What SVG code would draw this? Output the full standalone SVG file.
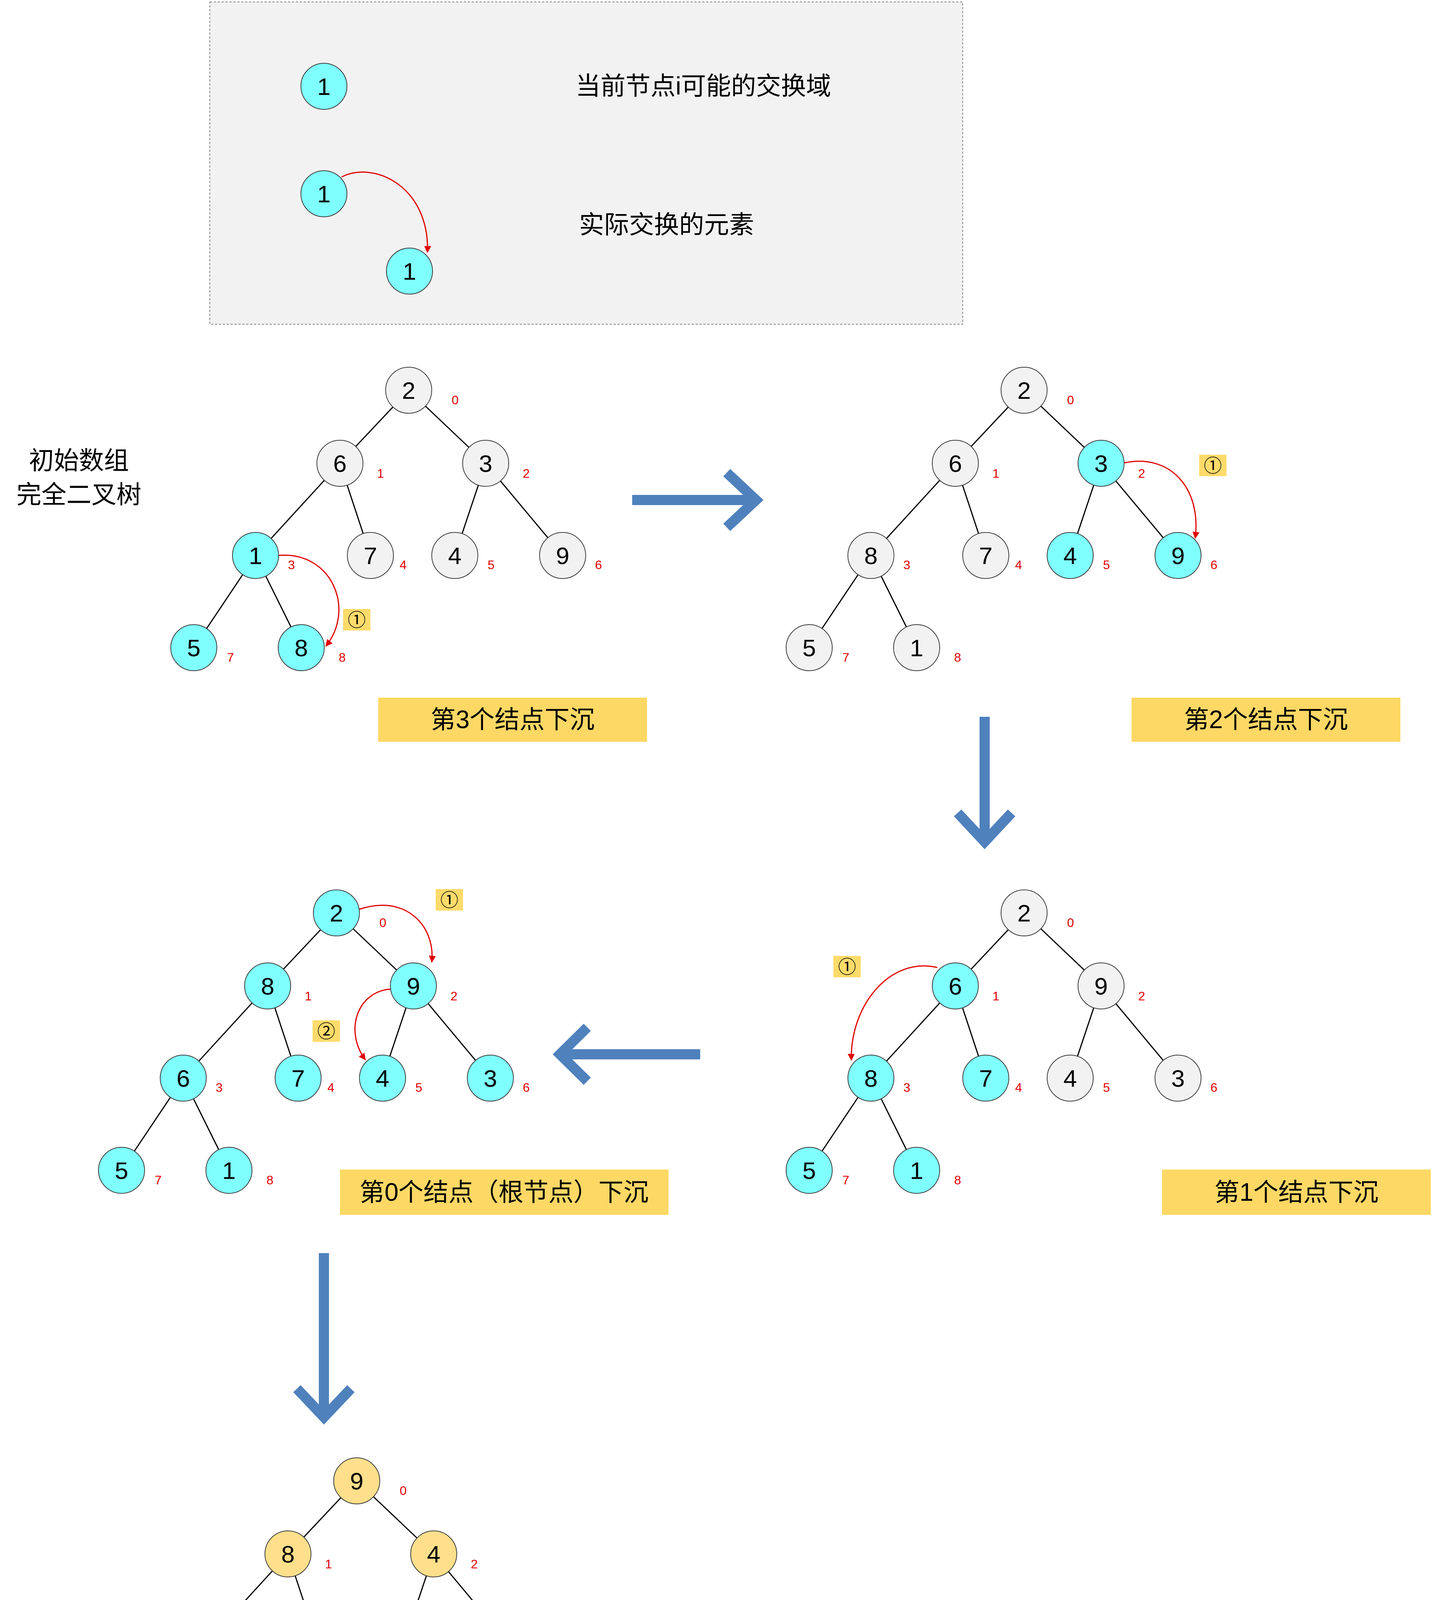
<svg xmlns="http://www.w3.org/2000/svg" width="3665" height="4533" viewBox="0 0 3665 4533">
<defs>
<style>
.g{fill:#f2f2f2;stroke:#404040;stroke-width:2}
.c{fill:#80ffff;stroke:#404040;stroke-width:2}
.y{fill:#fedf8b;stroke:#404040;stroke-width:2}
.v{font-family:"Liberation Sans","Noto Sans",sans-serif;font-size:62px;text-anchor:middle;fill:#000}
.i{font-family:"Liberation Sans",sans-serif;font-size:32px;text-anchor:middle;fill:#e00000}
.e{stroke:#000;stroke-width:3}
.r{fill:none;stroke:#e00000;stroke-width:3;marker-end:url(#ah)}
.b{fill:#fedb6a}
.bt{font-family:"Liberation Sans","Noto Sans CJK SC",sans-serif;font-size:46px;text-anchor:middle}
.lab{fill:#fdd865}
.t{font-family:"Liberation Sans","Noto Sans CJK SC",sans-serif;font-size:64px;text-anchor:middle;fill:#000}
.ba{stroke:#4f81bd;stroke-width:26;fill:none;stroke-linejoin:miter}
</style>
<marker id="ah" viewBox="0 0 10 10" refX="9" refY="5" markerWidth="6" markerHeight="6" orient="auto"><path d="M0,0 L10,5 L0,10 z" fill="#e00000"/></marker>
</defs>
<rect width="3665" height="4533" fill="#fff"/>
<g id="legend">
<rect x="537" y="5" width="1927" height="825" fill="#f2f2f2" stroke="#888" stroke-width="2" stroke-dasharray="6,4"/>
<circle class="c" cx="829" cy="221" r="59"/><text class="v" x="829" y="243">1</text>
<text class="t" x="1800" y="242">当前节点i可能的交换域</text>
<circle class="c" cx="829" cy="496" r="59"/><text class="v" x="829" y="518">1</text>
<circle class="c" cx="1048" cy="694" r="59"/><text class="v" x="1048" y="716">1</text>
<path class="r" d="M874,453 C960,410 1100,480 1094,646"/>
<text class="t" x="1706" y="597">实际交换的元素</text>
</g>
<g id="leftlabel"><text class="t" x="202" y="1201">初始数组</text><text class="t" x="202" y="1288">完全二叉树</text></g>

<!-- Tree 1 -->
<g id="tree1">
<g id="t1-connectors"><line class="e" x1="1046" y1="999" x2="870" y2="1186"/><line class="e" x1="1046" y1="999" x2="1243" y2="1186"/><line class="e" x1="870" y1="1186" x2="654" y2="1422"/><line class="e" x1="870" y1="1186" x2="948" y2="1422"/><line class="e" x1="1243" y1="1186" x2="1164" y2="1422"/><line class="e" x1="1243" y1="1186" x2="1440" y2="1422"/><line class="e" x1="654" y1="1422" x2="496" y2="1658"/><line class="e" x1="654" y1="1422" x2="771" y2="1658"/>
<path class="r" d="M712,1422 C850,1410 910,1560 834,1654"/></g>
<g id="t1n0"><circle class="g" cx="1046" cy="999" r="59"/><text class="v" x="1046" y="1021">2</text><text class="i" x="1165" y="1035">0</text></g>
<g id="t1n1"><circle class="g" cx="870" cy="1186" r="59"/><text class="v" x="870" y="1208">6</text><text class="i" x="974" y="1223">1</text></g>
<g id="t1n2"><circle class="g" cx="1243" cy="1186" r="59"/><text class="v" x="1243" y="1208">3</text><text class="i" x="1347" y="1223">2</text></g>
<g id="t1n3"><circle class="c" cx="654" cy="1422" r="59"/><text class="v" x="654" y="1444">1</text><text class="i" x="746" y="1457">3</text></g>
<g id="t1n4"><circle class="g" cx="948" cy="1422" r="59"/><text class="v" x="948" y="1444">7</text><text class="i" x="1032" y="1457">4</text></g>
<g id="t1n5"><circle class="g" cx="1164" cy="1422" r="59"/><text class="v" x="1164" y="1444">4</text><text class="i" x="1257" y="1457">5</text></g>
<g id="t1n6"><circle class="g" cx="1440" cy="1422" r="59"/><text class="v" x="1440" y="1444">9</text><text class="i" x="1532" y="1457">6</text></g>
<g id="t1n7"><circle class="c" cx="496" cy="1658" r="59"/><text class="v" x="496" y="1680">5</text><text class="i" x="590" y="1694">7</text></g>
<g id="t1n8"><circle class="c" cx="771" cy="1658" r="59"/><text class="v" x="771" y="1680">8</text><text class="i" x="876" y="1694">8</text></g>
<g id="t1b"><rect class="b" x="878" y="1559" width="70" height="55"/><text class="bt" x="913" y="1603">①</text></g>
</g>

<!-- Tree 2 -->
<g id="tree2" transform="translate(1575,0)">
<g id="t2-connectors"><line class="e" x1="1046" y1="999" x2="870" y2="1186"/><line class="e" x1="1046" y1="999" x2="1243" y2="1186"/><line class="e" x1="870" y1="1186" x2="654" y2="1422"/><line class="e" x1="870" y1="1186" x2="948" y2="1422"/><line class="e" x1="1243" y1="1186" x2="1164" y2="1422"/><line class="e" x1="1243" y1="1186" x2="1440" y2="1422"/><line class="e" x1="654" y1="1422" x2="496" y2="1658"/><line class="e" x1="654" y1="1422" x2="771" y2="1658"/>
<path class="r" d="M1302,1185 C1420,1160 1500,1250 1484,1378"/></g>
<g id="t2n0"><circle class="g" cx="1046" cy="999" r="59"/><text class="v" x="1046" y="1021">2</text><text class="i" x="1165" y="1035">0</text></g>
<g id="t2n1"><circle class="g" cx="870" cy="1186" r="59"/><text class="v" x="870" y="1208">6</text><text class="i" x="974" y="1223">1</text></g>
<g id="t2n2"><circle class="c" cx="1243" cy="1186" r="59"/><text class="v" x="1243" y="1208">3</text><text class="i" x="1347" y="1223">2</text></g>
<g id="t2n3"><circle class="g" cx="654" cy="1422" r="59"/><text class="v" x="654" y="1444">8</text><text class="i" x="746" y="1457">3</text></g>
<g id="t2n4"><circle class="g" cx="948" cy="1422" r="59"/><text class="v" x="948" y="1444">7</text><text class="i" x="1032" y="1457">4</text></g>
<g id="t2n5"><circle class="c" cx="1164" cy="1422" r="59"/><text class="v" x="1164" y="1444">4</text><text class="i" x="1257" y="1457">5</text></g>
<g id="t2n6"><circle class="c" cx="1440" cy="1422" r="59"/><text class="v" x="1440" y="1444">9</text><text class="i" x="1532" y="1457">6</text></g>
<g id="t2n7"><circle class="g" cx="496" cy="1658" r="59"/><text class="v" x="496" y="1680">5</text><text class="i" x="590" y="1694">7</text></g>
<g id="t2n8"><circle class="g" cx="771" cy="1658" r="59"/><text class="v" x="771" y="1680">1</text><text class="i" x="876" y="1694">8</text></g>
<g id="t2b"><rect class="b" x="1494" y="1164" width="70" height="55"/><text class="bt" x="1529" y="1208">①</text></g>
</g>

<!-- Tree 3 -->
<g id="tree3" transform="translate(1575,1338)">
<g id="t3-connectors"><line class="e" x1="1046" y1="999" x2="870" y2="1186"/><line class="e" x1="1046" y1="999" x2="1243" y2="1186"/><line class="e" x1="870" y1="1186" x2="654" y2="1422"/><line class="e" x1="870" y1="1186" x2="948" y2="1422"/><line class="e" x1="1243" y1="1186" x2="1164" y2="1422"/><line class="e" x1="1243" y1="1186" x2="1440" y2="1422"/><line class="e" x1="654" y1="1422" x2="496" y2="1658"/><line class="e" x1="654" y1="1422" x2="771" y2="1658"/>
<path class="r" d="M824,1139 C700,1110 600,1240 604,1376"/></g>
<g id="t3n0"><circle class="g" cx="1046" cy="999" r="59"/><text class="v" x="1046" y="1021">2</text><text class="i" x="1165" y="1035">0</text></g>
<g id="t3n1"><circle class="c" cx="870" cy="1186" r="59"/><text class="v" x="870" y="1208">6</text><text class="i" x="974" y="1223">1</text></g>
<g id="t3n2"><circle class="g" cx="1243" cy="1186" r="59"/><text class="v" x="1243" y="1208">9</text><text class="i" x="1347" y="1223">2</text></g>
<g id="t3n3"><circle class="c" cx="654" cy="1422" r="59"/><text class="v" x="654" y="1444">8</text><text class="i" x="746" y="1457">3</text></g>
<g id="t3n4"><circle class="c" cx="948" cy="1422" r="59"/><text class="v" x="948" y="1444">7</text><text class="i" x="1032" y="1457">4</text></g>
<g id="t3n5"><circle class="g" cx="1164" cy="1422" r="59"/><text class="v" x="1164" y="1444">4</text><text class="i" x="1257" y="1457">5</text></g>
<g id="t3n6"><circle class="g" cx="1440" cy="1422" r="59"/><text class="v" x="1440" y="1444">3</text><text class="i" x="1532" y="1457">6</text></g>
<g id="t3n7"><circle class="c" cx="496" cy="1658" r="59"/><text class="v" x="496" y="1680">5</text><text class="i" x="590" y="1694">7</text></g>
<g id="t3n8"><circle class="c" cx="771" cy="1658" r="59"/><text class="v" x="771" y="1680">1</text><text class="i" x="876" y="1694">8</text></g>
<g id="t3b"><rect class="b" x="558" y="1109" width="70" height="55"/><text class="bt" x="593" y="1153">①</text></g>
</g>

<!-- Tree 4 -->
<g id="tree4" transform="translate(-185,1338)">
<g id="t4-connectors"><line class="e" x1="1046" y1="999" x2="870" y2="1186"/><line class="e" x1="1046" y1="999" x2="1243" y2="1186"/><line class="e" x1="870" y1="1186" x2="654" y2="1422"/><line class="e" x1="870" y1="1186" x2="948" y2="1422"/><line class="e" x1="1243" y1="1186" x2="1164" y2="1422"/><line class="e" x1="1243" y1="1186" x2="1440" y2="1422"/><line class="e" x1="654" y1="1422" x2="496" y2="1658"/><line class="e" x1="654" y1="1422" x2="771" y2="1658"/>
<path class="r" d="M1104,990 C1220,950 1300,1030 1290,1125"/>
<path class="r" d="M1185,1194 C1100,1200 1065,1300 1120,1375"/></g>
<g id="t4n0"><circle class="c" cx="1046" cy="999" r="59"/><text class="v" x="1046" y="1021">2</text><text class="i" x="1165" y="1035">0</text></g>
<g id="t4n1"><circle class="c" cx="870" cy="1186" r="59"/><text class="v" x="870" y="1208">8</text><text class="i" x="974" y="1223">1</text></g>
<g id="t4n2"><circle class="c" cx="1243" cy="1186" r="59"/><text class="v" x="1243" y="1208">9</text><text class="i" x="1347" y="1223">2</text></g>
<g id="t4n3"><circle class="c" cx="654" cy="1422" r="59"/><text class="v" x="654" y="1444">6</text><text class="i" x="746" y="1457">3</text></g>
<g id="t4n4"><circle class="c" cx="948" cy="1422" r="59"/><text class="v" x="948" y="1444">7</text><text class="i" x="1032" y="1457">4</text></g>
<g id="t4n5"><circle class="c" cx="1164" cy="1422" r="59"/><text class="v" x="1164" y="1444">4</text><text class="i" x="1257" y="1457">5</text></g>
<g id="t4n6"><circle class="c" cx="1440" cy="1422" r="59"/><text class="v" x="1440" y="1444">3</text><text class="i" x="1532" y="1457">6</text></g>
<g id="t4n7"><circle class="c" cx="496" cy="1658" r="59"/><text class="v" x="496" y="1680">5</text><text class="i" x="590" y="1694">7</text></g>
<g id="t4n8"><circle class="c" cx="771" cy="1658" r="59"/><text class="v" x="771" y="1680">1</text><text class="i" x="876" y="1694">8</text></g>
<g id="t4b1"><rect class="b" x="1300" y="938" width="70" height="55"/><text class="bt" x="1335" y="982">①</text></g>
<g id="t4b2"><rect class="b" x="985" y="1274" width="70" height="55"/><text class="bt" x="1020" y="1318">②</text></g>
</g>

<!-- Tree 5 -->
<g id="tree5" transform="translate(-133,2792)">
<g id="t5-connectors"><line class="e" x1="1046" y1="999" x2="870" y2="1186"/><line class="e" x1="1046" y1="999" x2="1243" y2="1186"/><line class="e" x1="870" y1="1186" x2="654" y2="1422"/><line class="e" x1="870" y1="1186" x2="948" y2="1422"/><line class="e" x1="1243" y1="1186" x2="1164" y2="1422"/><line class="e" x1="1243" y1="1186" x2="1440" y2="1422"/><line class="e" x1="654" y1="1422" x2="496" y2="1658"/><line class="e" x1="654" y1="1422" x2="771" y2="1658"/></g>
<g id="t5n0"><circle class="y" cx="1046" cy="999" r="59"/><text class="v" x="1046" y="1021">9</text><text class="i" x="1165" y="1035">0</text></g>
<g id="t5n1"><circle class="y" cx="870" cy="1186" r="59"/><text class="v" x="870" y="1208">8</text><text class="i" x="974" y="1223">1</text></g>
<g id="t5n2"><circle class="y" cx="1243" cy="1186" r="59"/><text class="v" x="1243" y="1208">4</text><text class="i" x="1347" y="1223">2</text></g>
<g id="t5n3"><circle class="y" cx="654" cy="1422" r="59"/><text class="v" x="654" y="1444">6</text><text class="i" x="746" y="1457">3</text></g>
<g id="t5n4"><circle class="y" cx="948" cy="1422" r="59"/><text class="v" x="948" y="1444">7</text><text class="i" x="1032" y="1457">4</text></g>
<g id="t5n5"><circle class="y" cx="1164" cy="1422" r="59"/><text class="v" x="1164" y="1444">2</text><text class="i" x="1257" y="1457">5</text></g>
<g id="t5n6"><circle class="y" cx="1440" cy="1422" r="59"/><text class="v" x="1440" y="1444">3</text><text class="i" x="1532" y="1457">6</text></g>
<g id="t5n7"><circle class="y" cx="496" cy="1658" r="59"/><text class="v" x="496" y="1680">5</text><text class="i" x="590" y="1694">7</text></g>
<g id="t5n8"><circle class="y" cx="771" cy="1658" r="59"/><text class="v" x="771" y="1680">1</text><text class="i" x="876" y="1694">8</text></g>
</g>

<g id="labels">
<rect class="lab" x="968" y="1786" width="688" height="113"/><text class="t" x="1312" y="1864">第3个结点下沉</text>
<rect class="lab" x="2896" y="1786" width="688" height="113"/><text class="t" x="3240" y="1864">第2个结点下沉</text>
<rect class="lab" x="870" y="2994" width="841" height="116"/><text class="t" x="1290" y="3074">第0个结点（根节点）下沉</text>
<rect class="lab" x="2974" y="2994" width="688" height="116"/><text class="t" x="3318" y="3074">第1个结点下沉</text>
<text class="t" x="1945" y="4470">初始大顶堆</text>
</g>

<g id="flow-arrows">
<line class="ba" x1="1618" y1="1280" x2="1925" y2="1280"/><polyline class="ba" points="1860,1210 1935,1280 1860,1350"/>
<line class="ba" x1="2520" y1="1835" x2="2520" y2="2150"/><polyline class="ba" points="2451,2081 2520,2155 2589,2081"/>
<line class="ba" x1="1792" y1="2699" x2="1440" y2="2699"/><polyline class="ba" points="1503,2630 1433,2699 1503,2768"/>
<line class="ba" x1="829" y1="3208" x2="829" y2="3625"/><polyline class="ba" points="760,3555 829,3628 898,3555"/>
</g>
</svg>
